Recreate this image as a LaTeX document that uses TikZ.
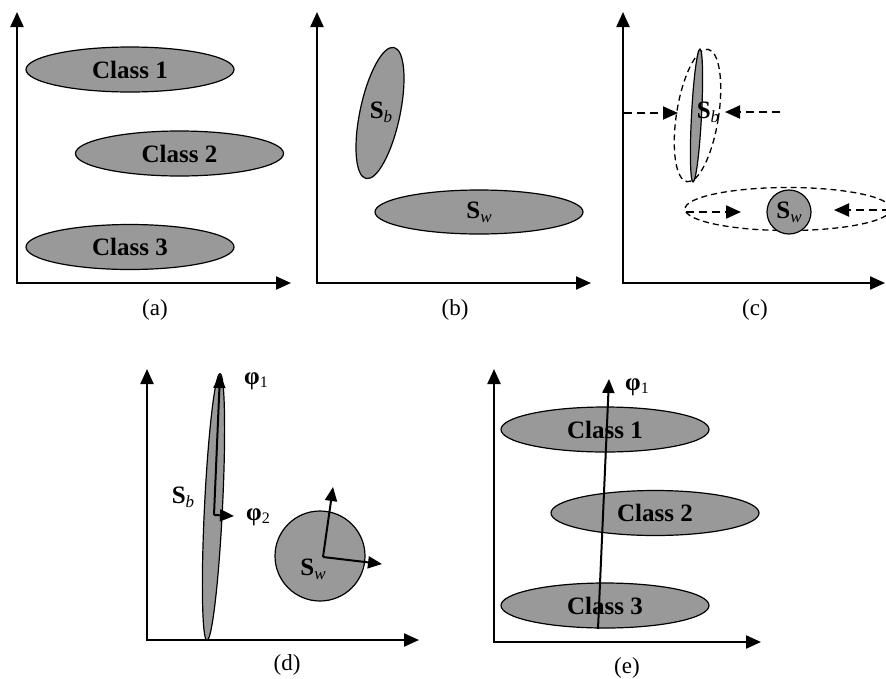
\documentclass[tikz,border=0pt]{standalone}
\usepackage{fontspec}
\setmainfont{Liberation Serif}
\usepackage{tikz}
\usetikzlibrary{arrows.meta, shapes.geometric}
\definecolor{blobgray}{RGB}{153,153,153}
\newcommand{\scatmat}[1]{\textbf{S}\raisebox{-4pt}{\fontsize{17}{17}\selectfont\itshape #1}}
\newcommand{\phivec}[1]{\textbf{φ}\raisebox{-3pt}{\fontsize{16}{16}\selectfont #1}}
\tikzset{
  axis/.style={{Triangle[length=15pt,width=13pt]}-{Triangle[length=15pt,width=13pt]}, line width=2.2pt},
  blob/.style={ellipse, draw=black, fill=blobgray, line width=1.2pt, inner sep=0pt},
  classblob/.style={blob, minimum width=208pt, minimum height=45pt, font=\fontsize{25}{28}\selectfont\bfseries},
  outline/.style={ellipse, draw=black, dashed, dash pattern=on 6pt off 4pt, line width=1.3pt, inner sep=0pt},
  dasharrow/.style={-{Triangle[length=15pt,width=13pt]}, dashed, dash pattern=on 8pt off 5pt, line width=2pt},
  vecarrow/.style={-{Triangle[length=14pt,width=12pt]}, line width=2pt},
  symtext/.style={font=\fontsize{25}{28}\selectfont, inner sep=0pt},
  phitext/.style={font=\fontsize{25}{28}\selectfont, inner sep=0pt},
  caption/.style={font=\fontsize{23}{26}\selectfont, inner sep=0pt}
}
\begin{document}
\begin{tikzpicture}[x=1pt, y=-1pt]
  \useasboundingbox (0,0) rectangle (886,678);

  % (a)
  \coordinate (a-top) at (17,12);
  \coordinate (a-right) at (291,283);
  \draw[axis] (a-top) |- (a-right);
  \node[classblob] (a-c1) at (130,69.5) {Class 1};
  \node[classblob] (a-c2) at (179.5,153.5) {Class 2};
  \node[classblob] (a-c3) at (130,247) {Class 3};
  \node[caption] (a-cap) at (155,310) {(a)};

  % (b)
  \coordinate (b-top) at (317,12);
  \coordinate (b-right) at (591,283);
  \draw[axis] (b-top) |- (b-right);
  \node[blob, minimum width=40pt, minimum height=134pt, rotate=-12] (b-sb) at (380,113) {};
  \node[symtext] (b-sblabel) at (381,112) {\scatmat{b}};
  \node[blob, minimum width=208pt, minimum height=44pt, font=\fontsize{25}{28}\selectfont] (b-sw) at (479,212) {\scatmat{w}};
  \node[caption] (b-cap) at (455,310) {(b)};

  % (c)
  \coordinate (c-top) at (623,12);
  \coordinate (c-right) at (885,283);
  \draw[axis] (c-top) |- (c-right);
  \node[outline, minimum width=42pt, minimum height=134pt, rotate=-9] (c-sbout) at (697.5,115.5) {};
  \node[blob, minimum width=10pt, minimum height=133pt, rotate=-3] (c-sb) at (696.5,115.5) {};
  \node[symtext] (c-sblabel) at (708,112) {\scatmat{b}};
  \node[outline, minimum width=206pt, minimum height=43pt] (c-swout) at (788,209) {};
  \node[blob, circle, minimum size=44pt, font=\fontsize{25}{28}\selectfont] (c-sw) at (789,212) {\scatmat{w}};
  \coordinate (c-l1) at (624,113);
  \coordinate (c-l2) at (678,113);
  \coordinate (c-r1) at (780,112);
  \coordinate (c-r2) at (725,112);
  \draw[dasharrow] (c-l1) -- (c-l2);
  \draw[dasharrow] (c-r1) -- (c-r2);
  \coordinate (c-l3) at (686,212);
  \coordinate (c-l4) at (741,212);
  \coordinate (c-r3) at (890,210);
  \coordinate (c-r4) at (834,210);
  \draw[dasharrow] (c-l3) -- (c-l4);
  \draw[dasharrow] (c-r3) -- (c-r4);
  \node[caption] (c-cap) at (755,310) {(c)};

  % (d)
  \coordinate (d-top) at (147,369);
  \coordinate (d-right) at (419,640);
  \draw[axis] (d-top) |- (d-right);
  \node[blob, minimum width=18pt, minimum height=267pt, rotate=-2.8] (d-sb) at (213.5,507) {};
  \coordinate (d-eig) at (214,515);
  \coordinate (d-phi1) at (220,374);
  \coordinate (d-phi2) at (234,516);
  \draw[vecarrow] (d-eig) -- (d-phi1);
  \draw[vecarrow] (d-eig) -- (d-phi2);
  \node[phitext] (d-phi1label) at (256,381) {\phivec{1}};
  \node[phitext] (d-phi2label) at (258,517) {\phivec{2}};
  \node[symtext] (d-sblabel) at (183,497) {\scatmat{b}};
  \node[blob, circle, minimum size=90pt] (d-sw) at (320,556) {};
  \node[symtext] (d-swlabel) at (313,569) {\scatmat{w}};
  \coordinate (d-c) at (323,557);
  \coordinate (d-v1) at (333,487);
  \coordinate (d-v2) at (382,564);
  \draw[vecarrow] (d-c) -- (d-v1);
  \draw[vecarrow] (d-c) -- (d-v2);
  \node[caption] (d-cap) at (287,665) {(d)};

  % (e)
  \coordinate (e-top) at (494,369);
  \coordinate (e-right) at (761,642);
  \draw[axis] (e-top) |- (e-right);
  \node[classblob] (e-c1) at (605,429.5) {Class 1};
  \node[classblob] (e-c2) at (655,513) {Class 2};
  \node[classblob] (e-c3) at (605,605.5) {Class 3};
  \coordinate (e-base) at (598,629);
  \coordinate (e-phi1) at (609,379);
  \draw[vecarrow] (e-base) -- (e-phi1);
  \node[phitext] (e-phi1label) at (637,387) {\phivec{1}};
  \node[caption] (e-cap) at (627,668) {(e)};
\end{tikzpicture}
\end{document}
